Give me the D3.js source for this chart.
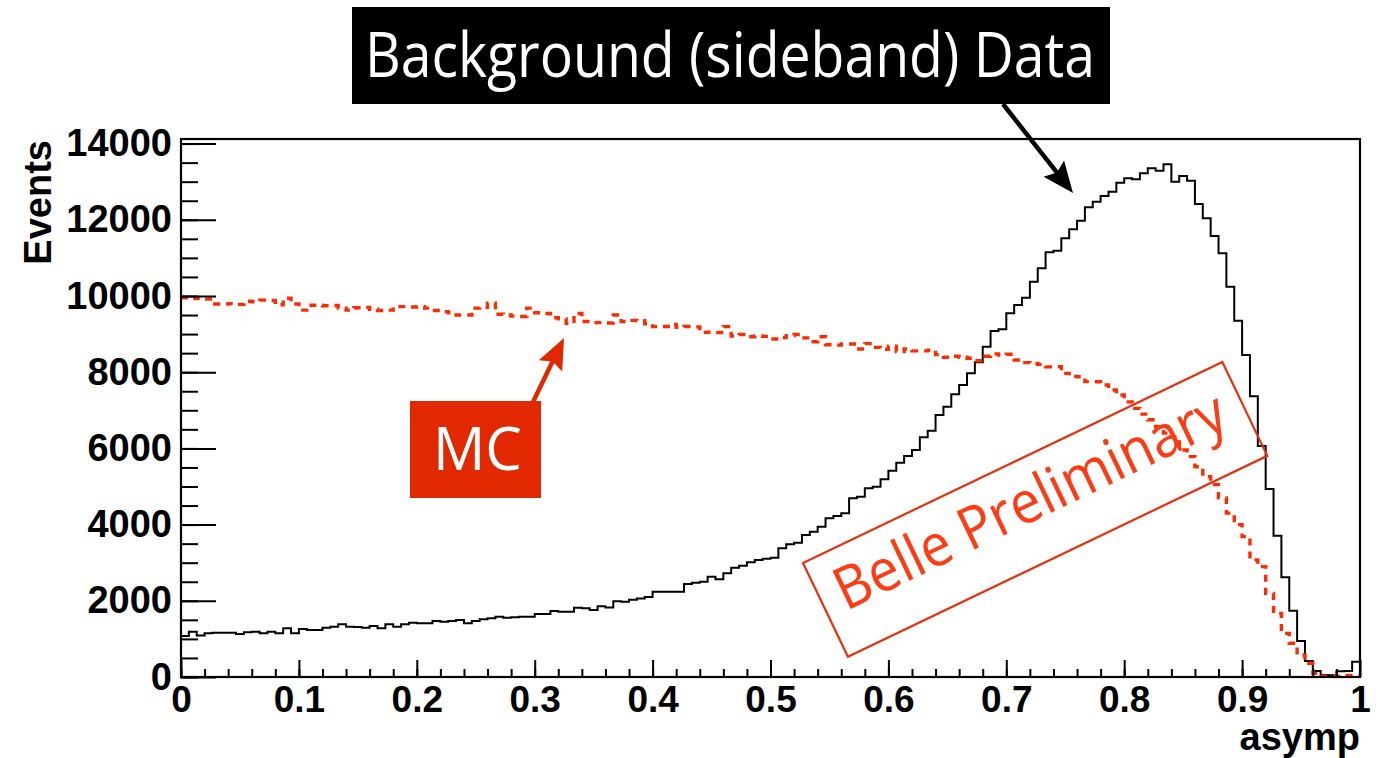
<!DOCTYPE html>
<html>
<head>
<meta charset="utf-8">
<script src="https://cdn.jsdelivr.net/npm/d3@7"></script>
<style>
  html, body { margin: 0; padding: 0; background: #ffffff; }
  svg { display: block; }
</style>
</head>
<body>
<svg id="chart" width="1381" height="758"></svg>
<script>
// asymp distribution: 150 equal bins on [0, 1]
const binCount = 150;

// Background (sideband) data, events per bin
const dataCounts = [
  1076, 1190, 1090, 1146, 1163, 1163, 1163, 1128, 1172, 1190,
  1146, 1190, 1146, 1277, 1146, 1260, 1233, 1233, 1295, 1321,
  1382, 1321, 1310, 1295, 1338, 1277, 1382, 1321, 1382, 1426,
  1408, 1408, 1470, 1452, 1470, 1496, 1408, 1470, 1513, 1540,
  1583, 1557, 1566, 1583, 1583, 1653, 1653, 1732, 1715, 1715,
  1820, 1802, 1759, 1860, 1825, 1990, 1977, 2030, 2063, 2100,
  2240, 2240, 2240, 2240, 2441, 2476, 2503, 2633, 2563, 2721,
  2870, 2922, 3009, 3071, 3106, 3132, 3377, 3482, 3526, 3727,
  3815, 3946, 4165, 4226, 4296, 4690, 4734, 4952, 4996, 5188,
  5416, 5626, 5800, 5958, 6290, 6465, 6877, 7096, 7419, 7664,
  7970, 8259, 8670, 9081, 9125, 9545, 9764, 9956, 10376, 10726,
  11146, 11190, 11514, 11750, 11977, 12327, 12476, 12625, 12738, 12974,
  13088, 13062, 13219, 13350, 13290, 13456, 13000, 13150, 13027, 12415,
  12039, 11575, 11120, 10245, 9352, 8451, 7370, 6063, 4934, 3710,
  2616, 1741, 945, 420, 160, 52, 45, 150, 160, 402
];

// Signal Monte Carlo, events per bin
const mcCounts = [
  9950, 9930, 9940, 9920, 9790, 9790, 9800, 9780, 9860, 9850,
  9890, 9880, 9770, 9940, 9790, 9630, 9755, 9760, 9745, 9750,
  9680, 9630, 9690, 9700, 9650, 9620, 9630, 9720, 9720, 9710,
  9720, 9680, 9620, 9590, 9560, 9500, 9500, 9680, 9700, 9810,
  9520, 9500, 9470, 9460, 9680, 9560, 9540, 9430, 9400, 9280,
  9540, 9330, 9300, 9300, 9290, 9500, 9330, 9360, 9350, 9270,
  9195, 9200, 9250, 9180, 9200, 9190, 9046, 9050, 9040, 9195,
  8950, 8990, 8930, 8950, 8940, 8870, 8910, 8960, 8990, 8900,
  8800, 8930, 8720, 8710, 8740, 8740, 8610, 8750, 8650, 8600,
  8680, 8540, 8610, 8560, 8560, 8580, 8460, 8390, 8420, 8390,
  8364, 8300, 8420, 8480, 8450, 8470, 8320, 8250, 8230, 8206,
  8140, 8145, 7970, 7890, 7880, 7751, 7750, 7664, 7533, 7400,
  7220, 7050, 6900, 6750, 6570, 6400, 6300, 5958, 5783, 5520,
  5258, 5050, 4700, 4300, 4000, 3683, 3071, 2896, 2196, 1671,
  1146, 884, 577, 359, 96, 20, 20, 20, 40, 40
];

// Axis ticks and their labels
const xTicks = [0, 0.1, 0.2, 0.3, 0.4, 0.5, 0.6, 0.7, 0.8, 0.9, 1];
const xTickLabels = ["0", "0.1", "0.2", "0.3", "0.4", "0.5", "0.6", "0.7", "0.8", "0.9", "1"];
const yTicks = [0, 2000, 4000, 6000, 8000, 10000, 12000, 14000];
const yTickLabels = ["0", "2000", "4000", "6000", "8000", "10000", "12000", "14000"];

const xTitle = "asymp";
const yTitle = "Events";
const dataLabel = "Background (sideband) Data";
const mcLabel = "MC";
const stamp = "Belle Preliminary";

const svg = d3.select("#chart");

const plotLeft = 181, plotRight = 1360, plotTop = 139, plotBottom = 677;
const yMax = 14120;

const x = d3.scaleLinear().domain([0, 1]).range([plotLeft, plotRight]);
const y = d3.scaleLinear().domain([0, yMax]).range([plotBottom, plotTop]);

const tickFont = "'Liberation Sans', Arial, Helvetica, sans-serif";

// Histogram outlines drawn as step lines over bin edges
function stepPoints(counts) {
  const pts = counts.map((c, i) => [i / binCount, c]);
  pts.push([1, counts[counts.length - 1]]);
  return pts;
}
const stepLine = d3.line()
  .x(d => x(d[0]))
  .y(d => y(d[1]))
  .curve(d3.curveStepAfter);

const plot = svg.append("g");

plot.append("path")
  .attr("d", stepLine(stepPoints(dataCounts)))
  .attr("fill", "none")
  .attr("stroke", "#000")
  .attr("stroke-width", 2);

plot.append("path")
  .attr("d", stepLine(stepPoints(mcCounts)))
  .attr("fill", "none")
  .attr("stroke", "#ff2a00")
  .attr("stroke-width", 3.4)
  .attr("stroke-dasharray", "7,6");

// Frame
svg.append("rect")
  .attr("x", plotLeft).attr("y", plotTop)
  .attr("width", plotRight - plotLeft).attr("height", plotBottom - plotTop)
  .attr("fill", "none")
  .attr("stroke", "#000")
  .attr("stroke-width", 2.2);

// Y axis: major ticks with labels, minor ticks every 500
const yMinor = d3.range(0, yMax, 500);
svg.append("g")
  .attr("transform", `translate(${plotLeft},0)`)
  .call(d3.axisLeft(y).tickValues(yMinor).tickSizeInner(-17).tickSizeOuter(0).tickFormat(""))
  .call(g => g.select(".domain").remove())
  .call(g => g.selectAll("line").attr("stroke", "#000").attr("stroke-width", 2));

svg.append("g")
  .attr("transform", `translate(${plotLeft},0)`)
  .call(d3.axisLeft(y).tickValues(yTicks).tickSizeInner(-35).tickSizeOuter(0).tickPadding(9)
    .tickFormat((d, i) => yTickLabels[i]))
  .call(g => g.select(".domain").remove())
  .call(g => g.selectAll("line").attr("stroke", "#000").attr("stroke-width", 2))
  .call(g => g.selectAll("text")
    .attr("fill", "#000")
    .style("font-family", tickFont)
    .style("font-weight", "bold")
    .style("font-size", "38px"));

// X axis: major ticks every 0.1, minor every 0.02
const xMinor = d3.range(0, 50).map(i => i / 50);
svg.append("g")
  .attr("transform", `translate(0,${plotBottom})`)
  .call(d3.axisBottom(x).tickValues(xMinor).tickSizeInner(-8).tickSizeOuter(0).tickFormat(""))
  .call(g => g.select(".domain").remove())
  .call(g => g.selectAll("line").attr("stroke", "#000").attr("stroke-width", 2));

svg.append("g")
  .attr("transform", `translate(0,${plotBottom})`)
  .call(d3.axisBottom(x).tickValues(xTicks).tickSizeInner(-17).tickSizeOuter(0).tickPadding(9)
    .tickFormat((d, i) => xTickLabels[i]))
  .call(g => g.select(".domain").remove())
  .call(g => g.selectAll("line").attr("stroke", "#000").attr("stroke-width", 2))
  .call(g => g.selectAll("text")
    .attr("fill", "#000")
    .style("font-family", tickFont)
    .style("font-weight", "bold")
    .style("font-size", "37px"));

// Axis titles
svg.append("text")
  .attr("x", plotRight).attr("y", 750)
  .attr("text-anchor", "end")
  .style("font-family", tickFont)
  .style("font-weight", "bold")
  .style("font-size", "38px")
  .text(xTitle);

svg.append("text")
  .attr("transform", "translate(51,140) rotate(-90)")
  .attr("text-anchor", "end")
  .style("font-family", tickFont)
  .style("font-weight", "bold")
  .style("font-size", "38px")
  .text(yTitle);

// Annotation arrows: straight shaft with a notched filled head
function arrow(x1, y1, x2, y2, color, width, headLen, headHalf) {
  const ang = Math.atan2(y2 - y1, x2 - x1);
  const bx = x2 - headLen * Math.cos(ang), by = y2 - headLen * Math.sin(ang);
  const nx = -Math.sin(ang), ny = Math.cos(ang);
  svg.append("line")
    .attr("x1", x1).attr("y1", y1).attr("x2", bx + 2 * Math.cos(ang)).attr("y2", by + 2 * Math.sin(ang))
    .attr("stroke", color).attr("stroke-width", width);
  const back = 5;
  svg.append("path")
    .attr("d", d3.line()([
      [x2, y2],
      [bx - back * Math.cos(ang) + headHalf * nx, by - back * Math.sin(ang) + headHalf * ny],
      [bx, by],
      [bx - back * Math.cos(ang) - headHalf * nx, by - back * Math.sin(ang) - headHalf * ny]
    ]) + "Z")
    .attr("fill", color);
}

const labelFont = "'Open Sans', Lato, sans-serif";

// Data label box
svg.append("rect")
  .attr("x", 352).attr("y", 7).attr("width", 758).attr("height", 97)
  .attr("fill", "#000");
svg.append("text")
  .attr("x", 365).attr("y", 77)
  .attr("textLength", 730)
  .attr("lengthAdjust", "spacingAndGlyphs")
  .attr("fill", "#fff")
  .style("font-family", labelFont)
  .style("font-size", "62px")
  .text(dataLabel);
arrow(1003, 104, 1073, 193, "#000", 4.5, 26, 13);

// MC label box
svg.append("rect")
  .attr("x", 410).attr("y", 401).attr("width", 131).attr("height", 97)
  .attr("fill", "#e12800");
svg.append("text")
  .attr("x", 433).attr("y", 470)
  .attr("textLength", 89)
  .attr("lengthAdjust", "spacingAndGlyphs")
  .attr("fill", "#fff")
  .style("font-family", labelFont)
  .style("font-size", "60px")
  .text(mcLabel);
arrow(533, 402, 564, 338, "#e12800", 4.5, 26, 13);

// Preliminary stamp
const st = svg.append("g").attr("transform", "translate(803,563) rotate(-25.6)");
st.append("rect")
  .attr("x", 0).attr("y", 0).attr("width", 465).attr("height", 104)
  .attr("fill", "none")
  .attr("stroke", "#e8300c")
  .attr("stroke-width", 2.2);
st.append("text")
  .attr("x", 18).attr("y", 62)
  .attr("textLength", 427)
  .attr("lengthAdjust", "spacingAndGlyphs")
  .attr("fill", "#ff3b14")
  .style("font-family", labelFont)
  .style("font-size", "59px")
  .text(stamp);
</script>
</body>
</html>
